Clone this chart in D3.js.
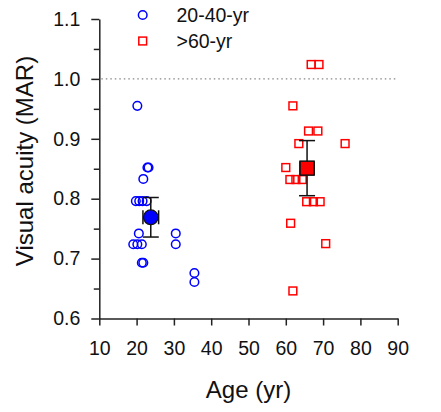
<!DOCTYPE html>
<html>
<head>
<meta charset="utf-8">
<script src="https://cdn.jsdelivr.net/npm/d3@7"></script>
<style>
  body { margin: 0; background: #fff; }
  svg { display: block; font-family: "Liberation Sans", Arial, sans-serif; }
</style>
</head>
<body>
<svg id="chart" width="441" height="412"></svg>
<script>
// ---- data ----
const youngAge = [20.2, 22.9, 23.2, 21.8, 19.8, 20.7, 21.6, 22.7, 20.6, 19.1, 20.2, 21.4, 21.4, 21.8, 30.5, 30.5, 35.5, 35.5];
const youngVA  = [0.955, 0.852, 0.852, 0.833, 0.796, 0.796, 0.796, 0.796, 0.742, 0.724, 0.724, 0.724, 0.693, 0.693, 0.742, 0.724, 0.676, 0.661];
const oldAge = [66.8, 68.9, 61.9, 66.1, 68.6, 63.5, 75.9, 60.0, 61.1, 62.7, 64.4, 65.6, 67.4, 69.2, 61.3, 70.7, 61.9];
const oldVA  = [1.024, 1.024, 0.955, 0.913, 0.913, 0.892, 0.892, 0.852, 0.832, 0.832, 0.832, 0.795, 0.795, 0.795, 0.759, 0.725, 0.646];
const groupNames = ["20-40-yr", ">60-yr"];
const meanAge = [23.8, 65.7];
const meanAgeErr = [2.1, 1.9];
const meanVA = [0.769, 0.851];
const meanVAErr = [0.033, 0.046];
const refLine = 1.0;
const xTicks = [10, 20, 30, 40, 50, 60, 70, 80, 90];
const yTicks = [0.6, 0.7, 0.8, 0.9, 1.0, 1.1];
const yMinorTicks = [0.65, 0.75, 0.85, 0.95, 1.05];

// ---- layout ----
const svg = d3.select("#chart");
const x = d3.scaleLinear().domain([10, 90]).range([99.3, 397.7]);
const y = d3.scaleLinear().domain([0.6, 1.1]).range([318.5, 19]);
const blue = "#0000ff", red = "#ff0000", axisCol = "#222";
const tickFont = 19.5;

// reference dotted line
svg.append("line")
  .attr("x1", x(10) + 2).attr("x2", x(90))
  .attr("y1", y(refLine)).attr("y2", y(refLine))
  .attr("stroke", "#888").attr("stroke-width", 1.2)
  .attr("stroke-dasharray", "1.5,3");

// x axis
const xAxis = svg.append("g").attr("transform", `translate(0,${y(0.6)})`)
  .call(d3.axisBottom(x).tickValues(xTicks).tickFormat(d3.format("d")).tickSizeInner(7).tickSizeOuter(0).tickPadding(15.5));
xAxis.select(".domain").attr("stroke", axisCol).attr("stroke-width", 1.5);
xAxis.selectAll(".tick line").attr("stroke", axisCol).attr("stroke-width", 1.5);
xAxis.selectAll("text").attr("font-size", tickFont).attr("fill", "#111").attr("font-family", "Liberation Sans, Arial, sans-serif");

// y axis
const yAxis = svg.append("g").attr("transform", `translate(${x(10)},0)`)
  .call(d3.axisLeft(y).tickValues(yTicks).tickFormat(d3.format(".1f")).tickSizeInner(8).tickSizeOuter(0).tickPadding(11));
yAxis.select(".domain").attr("stroke", axisCol).attr("stroke-width", 1.5);
yAxis.selectAll(".tick line").attr("stroke", axisCol).attr("stroke-width", 1.5);
yAxis.selectAll("text").attr("font-size", tickFont).attr("fill", "#111").attr("font-family", "Liberation Sans, Arial, sans-serif");
const yMinor = svg.append("g").attr("transform", `translate(${x(10)},0)`)
  .call(d3.axisLeft(y).tickValues(yMinorTicks).tickFormat("").tickSizeInner(5.5).tickSizeOuter(0));
yMinor.select(".domain").remove();
yMinor.selectAll(".tick line").attr("stroke", axisCol).attr("stroke-width", 1.5);

// axis titles
svg.append("text").attr("x", 248.5).attr("y", 398).attr("text-anchor", "middle")
  .attr("font-size", 24).attr("fill", "#111").text("Age (yr)");
svg.append("text").attr("transform", `translate(33,161) rotate(-90)`).attr("text-anchor", "middle")
  .attr("font-size", 24).attr("fill", "#111").text("Visual acuity (MAR)");

// individual points
const young = youngAge.map((a, i) => ({a, v: youngVA[i]}));
const old = oldAge.map((a, i) => ({a, v: oldVA[i]}));
svg.append("g").selectAll("circle").data(young).join("circle")
  .attr("cx", d => x(d.a)).attr("cy", d => y(d.v)).attr("r", 4.3)
  .attr("fill", "none").attr("stroke", blue).attr("stroke-width", 1.5);
const sq = 7.8;
svg.append("g").selectAll("rect").data(old).join("rect")
  .attr("x", d => x(d.a) - sq / 2).attr("y", d => y(d.v) - sq / 2)
  .attr("width", sq).attr("height", sq)
  .attr("fill", "none").attr("stroke", red).attr("stroke-width", 1.5);

// mean with error bars
const means = meanAge.map((a, i) => ({a, v: meanVA[i], ea: meanAgeErr[i], ev: meanVAErr[i], i}));
const eb = svg.append("g").attr("stroke", "#111").attr("stroke-width", 1.5);
means.forEach(m => {
  const cx = x(m.a), cy = y(m.v);
  eb.append("line").attr("x1", cx).attr("x2", cx).attr("y1", y(m.v + m.ev)).attr("y2", y(m.v - m.ev));
  [m.v + m.ev, m.v - m.ev].forEach(v => eb.append("line").attr("x1", cx - 8).attr("x2", cx + 8).attr("y1", y(v)).attr("y2", y(v)));
  eb.append("line").attr("x1", x(m.a - m.ea)).attr("x2", x(m.a + m.ea)).attr("y1", cy).attr("y2", cy);
  [m.a - m.ea, m.a + m.ea].forEach(a => eb.append("line").attr("x1", x(a)).attr("x2", x(a)).attr("y1", cy - 7).attr("y2", cy + 7));
});
const mY = means[0], mO = means[1];
svg.append("circle").attr("cx", x(mY.a)).attr("cy", y(mY.v)).attr("r", 7.3)
  .attr("fill", blue).attr("stroke", "#111").attr("stroke-width", 1.3);
svg.append("rect").attr("x", x(mO.a) - 7).attr("y", y(mO.v) - 7).attr("width", 14).attr("height", 14)
  .attr("fill", red).attr("stroke", "#111").attr("stroke-width", 1.5);

// legend
const lg = svg.append("g");
lg.append("circle").attr("cx", 142.7).attr("cy", 15).attr("r", 4.3)
  .attr("fill", "none").attr("stroke", blue).attr("stroke-width", 1.5);
lg.append("rect").attr("x", 142.7 - sq / 2).attr("y", 41 - sq / 2).attr("width", sq).attr("height", sq)
  .attr("fill", "none").attr("stroke", red).attr("stroke-width", 1.5);
lg.append("text").attr("x", 176.5).attr("y", 22).attr("font-size", tickFont).attr("fill", "#111").text(groupNames[0]);
lg.append("text").attr("x", 176.5).attr("y", 48).attr("font-size", tickFont).attr("fill", "#111").text(groupNames[1]);
</script>
</body>
</html>
